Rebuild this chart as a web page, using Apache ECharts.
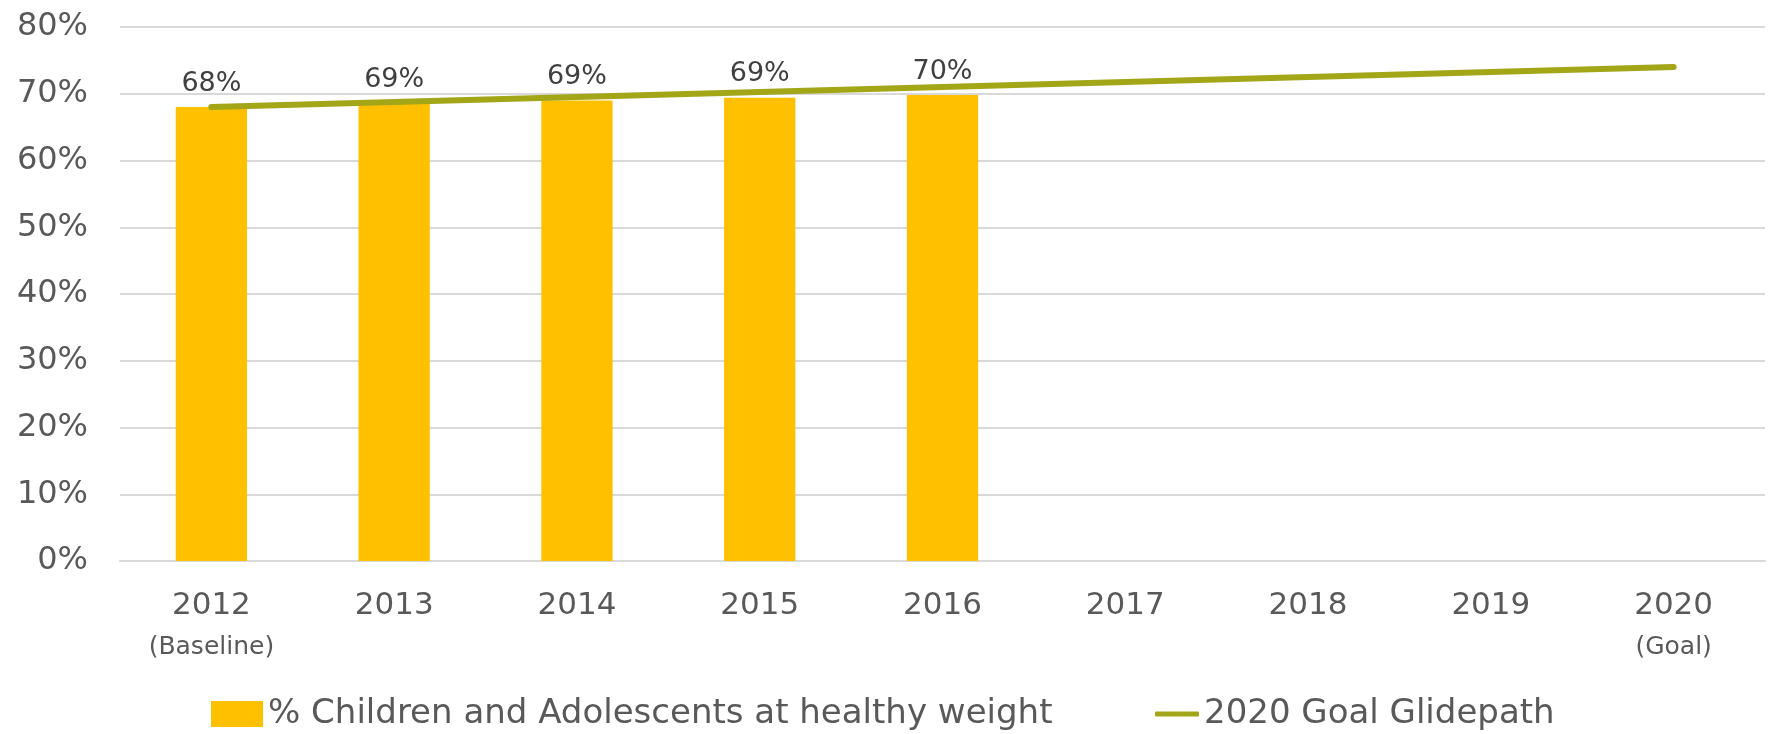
<!DOCTYPE html>
<html>
<head>
<meta charset="utf-8">
<script src="https://cdn.jsdelivr.net/npm/echarts@6/dist/echarts.min.js"></script>
<style>html,body{margin:0;padding:0;background:#fff;}#c{width:1770px;height:734px;}</style>
</head>
<body>
<div id="c"></div>
<script>
const categories = ['2012','2013','2014','2015','2016','2017','2018','2019','2020'];
const subLabels = ['(Baseline)','','','','','','','','(Goal)'];
const healthyWeight = [68.0, 68.6, 69.0, 69.4, 69.8, null, null, null, null];
const glidepath = [68.0, 68.75, 69.5, 70.25, 71.0, 71.75, 72.5, 73.25, 74.0];
const yTicks = [0, 10, 20, 30, 40, 50, 60, 70, 80];

const FONT = '"DejaVu Sans"';
const BAR_NAME = '% Children and Adolescents at healthy weight';
const LINE_NAME = '2020 Goal Glidepath';
const chart = echarts.init(document.getElementById('c'), null, {renderer: 'canvas'});
chart.setOption({
  animation: false,
  textStyle: {fontFamily: FONT},
  grid: {left: 120, right: 5, top: 27, bottom: 173, containLabel: false},
  legend: [
    {
      top: 692,
      left: 206,
      itemWidth: 52,
      itemHeight: 26,
      textStyle: {fontSize: 34, color: '#595959', fontFamily: FONT},
      data: [{name: BAR_NAME, icon: 'rect'}]
    },
    {
      top: 692,
      left: 1150,
      itemWidth: 44,
      itemHeight: 5,
      textStyle: {fontSize: 34, color: '#595959', fontFamily: FONT},
      data: [{name: LINE_NAME, icon: 'roundRect'}]
    }
  ],
  xAxis: {
    type: 'category',
    data: categories,
    axisLine: {lineStyle: {color: '#D9D9D9', width: 2}},
    axisTick: {show: false},
    axisLabel: {
      margin: 24,
      color: '#595959',
      formatter: function (v, i) {
        return subLabels[i] ? '{y|' + v + '}\n{s|' + subLabels[i] + '}' : '{y|' + v + '}';
      },
      rich: {
        y: {fontSize: 31, color: '#595959', fontFamily: FONT, lineHeight: 42},
        s: {fontSize: 25, color: '#595959', fontFamily: FONT, lineHeight: 40}
      }
    }
  },
  yAxis: {
    type: 'value',
    min: yTicks[0],
    max: yTicks[yTicks.length - 1],
    interval: 10,
    axisLine: {show: false},
    axisTick: {show: false},
    splitLine: {lineStyle: {color: '#D9D9D9', width: 2}},
    axisLabel: {
      margin: 32,
      fontSize: 32,
      color: '#595959',
      fontFamily: FONT,
      formatter: v => v + '%'
    }
  },
  series: [
    {
      name: BAR_NAME,
      type: 'bar',
      data: healthyWeight,
      barWidth: '39%',
      itemStyle: {color: '#FFC000'},
      label: {
        show: true,
        position: 'top',
        distance: 10,
        fontSize: 27,
        color: '#404040',
        fontFamily: FONT,
        formatter: p => Math.round(p.value) + '%'
      }
    },
    {
      name: LINE_NAME,
      type: 'line',
      data: glidepath,
      symbol: 'none',
      lineStyle: {color: '#A2A617', width: 6, cap: 'round'},
      itemStyle: {color: '#A2A617'},
      z: 5
    }
  ]
});
</script>
</body>
</html>
